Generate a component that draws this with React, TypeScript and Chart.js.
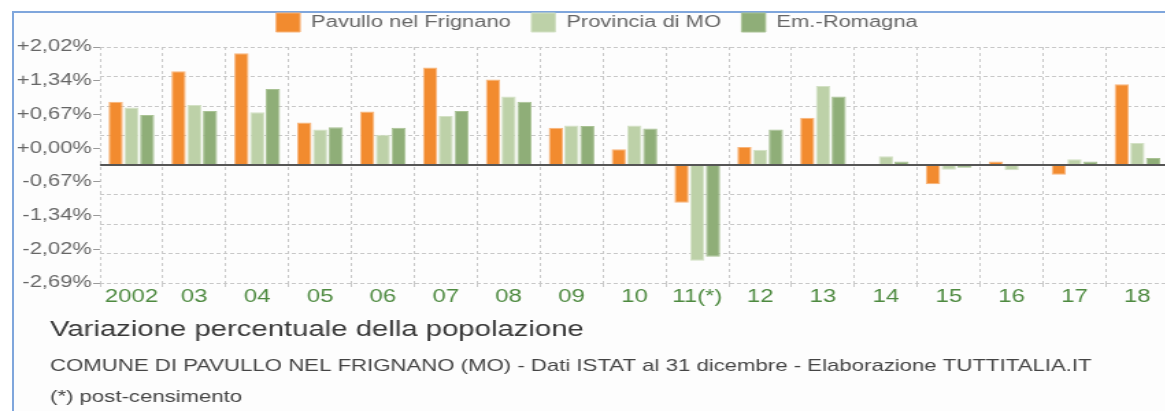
import React, { useEffect, useRef } from 'react';
import { Chart, registerables } from 'chart.js';

Chart.register(...registerables);

// ---- data ----
const years = ['2002', '03', '04', '05', '06', '07', '08', '09', '10', '11(*)', '12', '13', '14', '15', '16', '17', '18'];
const pavullo = [1.44, 2.14, 2.55, 0.97, 1.22, 2.22, 1.95, 0.85, 0.36, -0.86, 0.41, 1.08, 0.0, -0.44, 0.08, -0.22, 1.84];
const provincia = [1.31, 1.37, 1.2, 0.81, 0.69, 1.12, 1.56, 0.9, 0.9, -2.18, 0.35, 1.8, 0.2, -0.11, -0.12, 0.13, 0.5];
const emiliaRomagna = [1.14, 1.23, 1.73, 0.86, 0.85, 1.23, 1.44, 0.89, 0.83, -2.09, 0.81, 1.56, 0.08, -0.06, 0.01, 0.08, 0.16];
const seriesNames = ['Pavullo nel Frignano', 'Provincia di MO', 'Em.-Romagna'];
const yTickLabels = ['+2,02%', '+1,34%', '+0,67%', '+0,00%', '-0,67%', '-1,34%', '-2,02%', '-2,69%'];
const titleText = 'Variazione percentuale della popolazione';
const subtitleLines = [
  'COMUNE DI PAVULLO NEL FRIGNANO (MO) - Dati ISTAT al 31 dicembre - Elaborazione TUTTITALIA.IT',
  '(*) post-censimento',
];

// ---- geometry (canvas drawn narrower, then stretched horizontally like the reference) ----
const STRETCH = 1.37;
const CW = 860;
const CH = 420;

const layoutTweakPlugin = {
  id: 'layoutTweak',
  beforeInit(chart: any) {
    const lg = chart.legend;
    if (!lg) return;
    const orig = lg.fit;
    lg.fit = function () {
      orig.call(this);
      this.height += 5;
    };
  },
  afterLayout(chart: any) {
    const lg = chart.legend;
    if (lg) {
      lg.left += 9.15;
      lg.right += 9.15;
    }
    for (const b of chart.boxes) {
      if (b.position === 'bottom' && b.weight >= 1000) {
        b.left += 36.5;
        b.right += 36.5;
      }
    }
  },
};

const zeroLinePlugin = {
  id: 'zeroLine',
  afterDatasetsDraw(chart: any) {
    const y = chart.scales.y.getPixelForValue(0);
    const { left, right } = chart.chartArea;
    const ctx = chart.ctx;
    ctx.save();
    ctx.strokeStyle = '#555';
    ctx.lineWidth = 2;
    ctx.beginPath();
    ctx.moveTo(left, y);
    ctx.lineTo(right, y);
    ctx.stroke();
    ctx.restore();
  },
};

export default function App() {
  const ref = useRef<HTMLCanvasElement | null>(null);

  useEffect(() => {
    if (!ref.current) return;
    Chart.defaults.font.family = '"Liberation Sans", Arial, Helvetica, sans-serif';
    const chart = new Chart(ref.current, {
      type: 'bar',
      data: {
        labels: years,
        datasets: [
          { label: seriesNames[0], data: pavullo, backgroundColor: '#f28b2f', borderColor: '#f8b47a', borderWidth: 1 },
          { label: seriesNames[1], data: provincia, backgroundColor: '#bdd1a8', borderColor: '#d3e1c5', borderWidth: 1 },
          { label: seriesNames[2], data: emiliaRomagna, backgroundColor: '#8fae78', borderColor: '#a9c294', borderWidth: 1 },
        ],
      },
      options: {
        responsive: false,
        animation: false,
        devicePixelRatio: 1,
        layout: { padding: { left: 0, right: 6.7, top: -2, bottom: 6.5 } },
        datasets: { bar: { categoryPercentage: 0.75, barPercentage: 0.91 } },
        plugins: {
          legend: {
            position: 'top',
            labels: { boxWidth: 17.5, boxHeight: 19, padding: 15, color: '#666', font: { size: 16 } },
          },
          title: {
            display: true,
            position: 'bottom',
            align: 'start',
            text: titleText,
            color: '#383838',
            font: { size: 21.4, weight: 'normal', lineHeight: 1.2 },
            padding: { top: 9.5, bottom: 8.3 },
            weight: 1400,
          },
          subtitle: {
            display: true,
            position: 'bottom',
            align: 'start',
            text: subtitleLines,
            color: '#444',
            font: { size: 16.2, lineHeight: '31px' },
            padding: { top: 0, bottom: 0 },
            weight: 1500,
          },
          tooltip: { enabled: false },
        },
        scales: {
          x: {
            grid: { color: '#c8c8c8', tickLength: 4, tickColor: '#c8c8c8', offset: true },
            border: { display: false, dash: [3, 3] },
            ticks: { color: '#4e8a40', font: { size: 17.5 }, padding: 0, maxRotation: 0, autoSkip: false },
          },
          y: {
            min: -2.69,
            max: 2.69,
            ticks: { display: false, count: 9 },
            grid: { color: '#c8c8c8', drawTicks: false },
            border: { display: false, dash: [3, 2] },
            afterFit: (s: any) => {
              s.width = 0;
            },
          },
          y2: {
            type: 'linear',
            position: 'left',
            min: 0,
            max: 7,
            ticks: {
              stepSize: 1,
              color: '#666',
              font: { size: 16 },
              padding: 1,
              callback: (v: any) => yTickLabels[7 - Number(v)],
            },
            grid: { drawOnChartArea: false, drawTicks: true, tickLength: 5, color: '#999' },
            border: { display: false },
            afterFit: (s: any) => {
              s.width = 73;
            },
          },
        },
      } as any,
      plugins: [layoutTweakPlugin, zeroLinePlugin],
    });
    return () => chart.destroy();
  }, []);

  return (
    <div
      style={{
        position: 'fixed',
        left: 0,
        top: 0,
        width: 1165,
        height: 411,
        overflow: 'hidden',
        background: '#ffffff',
      }}
    >
      <div
        style={{
          position: 'absolute',
          left: 12,
          top: 11,
          width: 1400,
          height: 600,
          borderTop: '2px solid #7fa6dc',
          borderLeft: '2px solid #7fa6dc',
          background: '#fdfdfd',
        }}
      />
      <canvas
        ref={ref}
        width={CW}
        height={CH}
        style={{
          position: 'absolute',
          left: 0,
          top: 0,
          width: `${CW * STRETCH}px`,
          height: `${CH}px`,
        }}
      />
    </div>
  );
}
